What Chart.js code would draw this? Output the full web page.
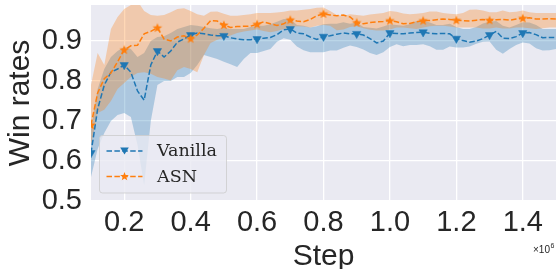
<!DOCTYPE html>
<html>
<head>
<meta charset="utf-8">
<script src="https://cdn.jsdelivr.net/npm/chart.js@4"></script>
<style>
  html, body { margin: 0; padding: 0; background: #fff; }
  #chart { display: block; }
</style>
</head>
<body>
<canvas id="chart" width="556" height="269"></canvas>
<script>
// training step (x 1e6)
const steps = [0.10,0.12,0.14,0.16,0.18,0.20,0.22,0.24,0.26,0.28,
  0.30,0.32,0.34,0.36,0.38,0.40,0.42,0.44,0.46,0.48,
  0.50,0.52,0.54,0.56,0.58,0.60,0.62,0.64,0.66,0.68,
  0.70,0.72,0.74,0.76,0.78,0.80,0.82,0.84,0.86,0.88,
  0.90,0.92,0.94,0.96,0.98,1.00,1.02,1.04,1.06,1.08,
  1.10,1.12,1.14,1.16,1.18,1.20,1.22,1.24,1.26,1.28,
  1.30,1.32,1.34,1.36,1.38,1.40,1.42,1.44,1.46,1.48,
  1.50];

// Vanilla: mean, lower, upper
const vanillaMean = [0.62,0.73,0.79,0.822,0.83,0.84,0.822,0.775,0.752,0.84,
  0.875,0.86,0.875,0.897,0.905,0.915,0.92,0.918,0.915,0.913,
  0.913,0.908,0.905,0.903,0.903,0.905,0.907,0.909,0.916,0.928,
  0.93,0.92,0.918,0.91,0.904,0.911,0.913,0.917,0.92,0.918,
  0.918,0.915,0.906,0.895,0.9,0.92,0.919,0.918,0.92,0.921,
  0.922,0.919,0.918,0.919,0.918,0.906,0.901,0.897,0.9,0.906,
  0.915,0.924,0.907,0.906,0.911,0.92,0.921,0.916,0.908,0.909,
  0.909];
const vanillaLow = [0.56,0.63,0.67,0.70,0.715,0.72,0.71,0.64,0.54,0.70,
  0.79,0.80,0.80,0.81,0.81,0.82,0.84,0.865,0.86,0.855,
  0.848,0.842,0.835,0.855,0.87,0.87,0.875,0.88,0.898,0.907,
  0.903,0.886,0.877,0.872,0.872,0.872,0.876,0.876,0.883,0.889,
  0.885,0.879,0.87,0.865,0.872,0.885,0.892,0.887,0.89,0.89,
  0.892,0.887,0.878,0.878,0.886,0.884,0.884,0.886,0.893,0.898,
  0.899,0.878,0.868,0.88,0.89,0.896,0.894,0.882,0.876,0.877,
  0.88];
const vanillaHigh = [0.68,0.78,0.83,0.86,0.875,0.885,0.88,0.86,0.87,0.9,
  0.91,0.912,0.92,0.93,0.935,0.94,0.938,0.935,0.932,0.93,
  0.933,0.93,0.93,0.93,0.935,0.938,0.938,0.942,0.948,0.955,
  0.955,0.94,0.938,0.934,0.937,0.942,0.943,0.943,0.947,0.943,
  0.946,0.935,0.933,0.931,0.936,0.942,0.94,0.938,0.942,0.95,
  0.951,0.946,0.94,0.94,0.943,0.935,0.93,0.93,0.935,0.944,
  0.948,0.95,0.938,0.934,0.94,0.947,0.946,0.94,0.93,0.93,
  0.93];

// ASN: mean, lower, upper
const asnMean = [0.69,0.77,0.806,0.82,0.848,0.878,0.888,0.889,0.918,0.924,
  0.933,0.905,0.9,0.91,0.913,0.906,0.915,0.932,0.951,0.95,
  0.94,0.934,0.936,0.937,0.937,0.942,0.948,0.943,0.939,0.943,
  0.953,0.95,0.948,0.954,0.963,0.968,0.965,0.963,0.965,0.96,
  0.946,0.943,0.946,0.948,0.949,0.951,0.948,0.943,0.944,0.948,
  0.951,0.951,0.953,0.955,0.954,0.952,0.951,0.95,0.952,0.954,
  0.952,0.953,0.954,0.952,0.955,0.957,0.958,0.955,0.955,0.956,
  0.955];
const asnLow = [0.64,0.72,0.728,0.75,0.78,0.795,0.81,0.82,0.822,0.818,
  0.81,0.806,0.801,0.827,0.835,0.83,0.822,0.865,0.895,0.903,
  0.908,0.914,0.92,0.924,0.926,0.929,0.925,0.922,0.925,0.93,
  0.934,0.937,0.936,0.934,0.938,0.94,0.938,0.927,0.929,0.935,
  0.937,0.932,0.928,0.926,0.926,0.929,0.934,0.934,0.932,0.93,
  0.934,0.937,0.938,0.938,0.936,0.934,0.934,0.934,0.934,0.931,
  0.931,0.934,0.931,0.931,0.934,0.934,0.932,0.93,0.932,0.934,
  0.934];
const asnHigh = [0.79,0.87,0.84,0.93,0.96,0.98,0.99,1.0,0.975,0.965,
  0.963,0.965,0.972,0.98,0.982,0.975,0.967,0.963,0.973,0.974,
  0.968,0.963,0.963,0.965,0.967,0.97,0.97,0.97,0.971,0.973,
  0.976,0.976,0.978,0.98,0.983,0.984,0.975,0.965,0.963,0.967,
  0.965,0.963,0.966,0.968,0.97,0.975,0.973,0.969,0.967,0.968,
  0.97,0.974,0.974,0.97,0.968,0.967,0.97,0.978,0.979,0.976,
  0.972,0.972,0.976,0.972,0.973,0.976,0.972,0.97,0.97,0.97,
  0.97];

const xTicks = [0.2, 0.4, 0.6, 0.8, 1.0, 1.2, 1.4];
const yTicks = [0.5, 0.6, 0.7, 0.8, 0.9];

const BLUE = '#1f77b4';
const ORANGE = '#ff7f0e';
const TEXT = '#262626';

function pts(arr) {
  return arr.map((v, i) => ({x: steps[i], y: v}));
}

function drawStar(ctx, cx, cy, r, color) {
  ctx.beginPath();
  for (let i = 0; i < 10; i++) {
    let rr = i % 2 === 0 ? r : r * 0.42;
    let a = -Math.PI / 2 + i * Math.PI / 5;
    let px = cx + Math.cos(a) * rr, py = cy + Math.sin(a) * rr;
    if (i === 0) ctx.moveTo(px, py); else ctx.lineTo(px, py);
  }
  ctx.closePath();
  ctx.fillStyle = color;
  ctx.fill();
}

function drawTriDown(ctx, cx, cy, r, color) {
  ctx.beginPath();
  ctx.moveTo(cx - r, cy - r * 0.8);
  ctx.lineTo(cx + r, cy - r * 0.8);
  ctx.lineTo(cx, cy + r * 0.8);
  ctx.closePath();
  ctx.fillStyle = color;
  ctx.fill();
}

// star marker as an image, chart.js has no filled star
const starImg = document.createElement('canvas');
starImg.width = 12; starImg.height = 12;
drawStar(starImg.getContext('2d'), 6, 6.3, 5, ORANGE);

function markerRadius(ctx) {
  return (ctx.dataIndex % 5 === 0 && ctx.dataIndex < 70) ? 4.8 : 0;
}

const bgPlugin = {
  id: 'bg',
  beforeDraw(chart) {
    const a = chart.chartArea, ctx = chart.ctx;
    ctx.save();
    ctx.fillStyle = '#eaeaf2';
    ctx.fillRect(a.left, a.top, a.right - a.left, a.bottom - a.top);
    ctx.restore();
  }
};

const legendPlugin = {
  id: 'boxLegend',
  afterDraw(chart) {
    const ctx = chart.ctx;
    ctx.save();
    // frame
    let x0 = 99.5, y0 = 135.5, w = 127, h = 57.5, r = 3;
    ctx.beginPath();
    ctx.moveTo(x0 + r, y0);
    ctx.arcTo(x0 + w, y0, x0 + w, y0 + h, r);
    ctx.arcTo(x0 + w, y0 + h, x0, y0 + h, r);
    ctx.arcTo(x0, y0 + h, x0, y0, r);
    ctx.arcTo(x0, y0, x0 + w, y0, r);
    ctx.closePath();
    ctx.fillStyle = 'rgba(234,234,242,0.8)';
    ctx.fill();
    ctx.strokeStyle = 'rgba(204,204,204,0.8)';
    ctx.lineWidth = 1;
    ctx.stroke();

    const rows = [
      {label: 'Vanilla', color: BLUE, y: 151, mk: 'tri'},
      {label: 'ASN', color: ORANGE, y: 176.5, mk: 'star'}
    ];
    rows.forEach(row => {
      ctx.setLineDash([5.5, 2.4]);
      ctx.lineWidth = 1.5;
      ctx.strokeStyle = row.color;
      ctx.beginPath();
      ctx.moveTo(106.5, row.y);
      ctx.lineTo(142.5, row.y);
      ctx.stroke();
      ctx.setLineDash([]);
      if (row.mk === 'tri') drawTriDown(ctx, 124.5, row.y, 4.3, row.color);
      else drawStar(ctx, 124.5, row.y, 4.6, row.color);
      ctx.fillStyle = TEXT;
      ctx.font = '17.5px "DejaVu Serif"';
      ctx.textBaseline = 'middle';
      ctx.textAlign = 'left';
      ctx.fillText(row.label, 157, row.y + 0.5);
    });

    // axis offset text
    ctx.fillStyle = TEXT;
    ctx.textBaseline = 'alphabetic';
    ctx.font = '10px "Liberation Sans"';
    ctx.fillText('\u00d710', 533, 253);
    ctx.font = '7px "Liberation Sans"';
    ctx.fillText('6', 550.5, 247.5);
    ctx.restore();
  }
};

const config = {
  type: 'line',
  data: {
    datasets: [
      {data: pts(vanillaLow), borderWidth: 0, pointRadius: 0, fill: false, order: 5},
      {data: pts(vanillaHigh), borderWidth: 0, pointRadius: 0, fill: '-1',
        backgroundColor: 'rgba(31,119,180,0.3)', order: 5},
      {data: pts(asnLow), borderWidth: 0, pointRadius: 0, fill: false, order: 4},
      {data: pts(asnHigh), borderWidth: 0, pointRadius: 0, fill: '-1',
        backgroundColor: 'rgba(255,127,14,0.3)', order: 4},
      {
        label: 'Vanilla',
        data: pts(vanillaMean),
        borderColor: BLUE,
        borderWidth: 1.5,
        borderDash: [5.5, 2.4],
        fill: false,
        pointStyle: 'triangle',
        pointRotation: 180,
        pointRadius: markerRadius,
        pointBackgroundColor: BLUE,
        pointBorderColor: BLUE,
        pointBorderWidth: 0.5,
        order: 2
      },
      {
        label: 'ASN',
        data: pts(asnMean),
        borderColor: ORANGE,
        borderWidth: 1.5,
        borderDash: [5.5, 2.4],
        fill: false,
        pointStyle: starImg,
        pointRadius: markerRadius,
        order: 1
      }
    ]
  },
  options: {
    responsive: false,
    animation: false,
    devicePixelRatio: 1,
    layout: {autoPadding: false, padding: {top: 5, right: 0, left: 0, bottom: 0}},
    plugins: {
      legend: {display: false},
      tooltip: {enabled: false}
    },
    elements: {line: {tension: 0}},
    scales: {
      x: {
        type: 'linear',
        min: 0.1,
        max: 1.5,
        border: {display: false},
        grid: {color: '#ffffff', lineWidth: 1.3, drawTicks: false},
        afterBuildTicks: function(scale) {
          scale.ticks = xTicks.map(v => ({value: v}));
        },
        afterFit: function(scale) {
          scale.height = 68;
          scale.paddingLeft = 0;
          scale.paddingRight = 0;
        },
        ticks: {
          color: TEXT,
          padding: 5,
          maxRotation: 0,
          font: {family: '"Liberation Sans"', size: 29},
          callback: v => v.toFixed(1)
        },
        title: {
          display: true,
          text: 'Step',
          color: TEXT,
          font: {family: '"Liberation Sans"', size: 30, lineHeight: 0.8},
          padding: 0
        }
      },
      y: {
        min: 0.5,
        max: 0.99,
        border: {display: false},
        grid: {color: '#ffffff', lineWidth: 1.3, drawTicks: false},
        afterBuildTicks: function(scale) {
          scale.ticks = yTicks.map(v => ({value: v}));
        },
        afterFit: function(scale) {
          scale.width = 91;
          scale.paddingTop = 0;
          scale.paddingBottom = 0;
        },
        ticks: {
          color: TEXT,
          padding: 9,
          font: {family: '"Liberation Sans"', size: 29},
          callback: v => v.toFixed(1)
        },
        title: {
          display: true,
          text: 'Win rates',
          color: TEXT,
          font: {family: '"Liberation Sans"', size: 30, lineHeight: 1.2},
          padding: {top: 3, bottom: 0}
        }
      }
    }
  },
  plugins: [bgPlugin, legendPlugin]
};

new Chart(document.getElementById('chart'), config);
</script>
</body>
</html>
